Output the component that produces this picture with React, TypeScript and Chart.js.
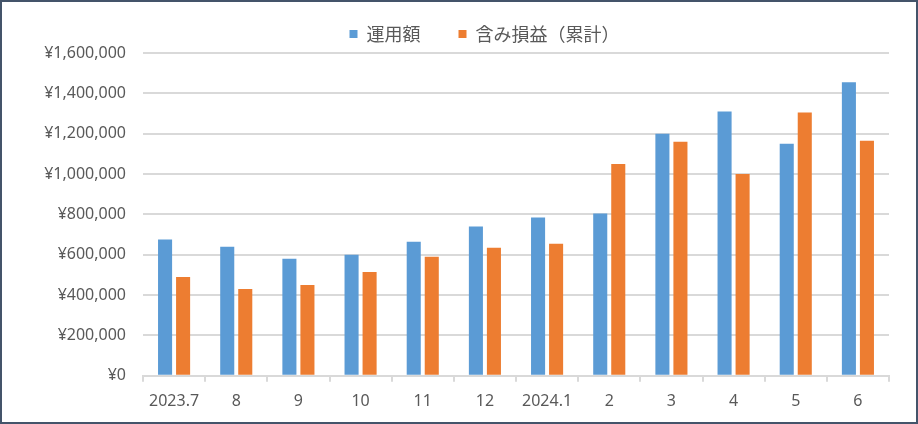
import React, { useEffect, useRef } from 'react';
import { Chart, registerables } from 'chart.js';

Chart.register(...registerables);

const categories = ['2023.7', '8', '9', '10', '11', '12', '2024.1', '2', '3', '4', '5', '6'];
const seriesNames = ['運用額', '含み損益（累計）'];
const investedValues = [675000, 640000, 580000, 600000, 665000, 740000, 785000, 805000, 1200000, 1310000, 1150000, 1455000];
const gainValues = [490000, 430000, 450000, 515000, 590000, 635000, 655000, 1050000, 1160000, 1000000, 1305000, 1165000];
const yMin = 0;
const yMax = 1600000;
const yStep = 200000;

const TEXT = '#595959';
const GRID = '#d9d9d9';
const tickFont = { family: '"Noto Sans", sans-serif', size: 16 };

const legendShift = {
  id: 'legendShift',
  afterLayout(chart: any) {
    const l = chart.legend;
    if (l) {
      l.left += 39;
      l.right += 39;
    }
  },
};

export default function App() {
  const ref = useRef<HTMLCanvasElement>(null);

  useEffect(() => {
    const chart = new Chart(ref.current!, {
      type: 'bar',
      data: {
        labels: categories,
        datasets: [
          {
            label: seriesNames[0],
            data: investedValues,
            backgroundColor: '#5B9BD5',
            categoryPercentage: 0.58,
            barPercentage: 0.78,
          },
          {
            label: seriesNames[1],
            data: gainValues,
            backgroundColor: '#ED7D31',
            categoryPercentage: 0.58,
            barPercentage: 0.78,
          },
        ],
      },
      options: {
        responsive: false,
        animation: false,
        layout: { padding: { left: 0, right: 27, top: -15, bottom: 1 } },
        plugins: {
          legend: {
            display: true,
            position: 'top',
            labels: {
              boxWidth: 8,
              boxHeight: 8,
              padding: 38,
              color: TEXT,
              font: { family: '"Noto Sans CJK JP", sans-serif', size: 18 },
            },
          },
          tooltip: { enabled: false },
        },
        scales: {
          x: {
            grid: {
              offset: true,
              drawOnChartArea: false,
              drawTicks: true,
              tickLength: 6,
              color: GRID,
              lineWidth: 2,
            },
            border: { color: GRID, width: 2 },
            ticks: {
              color: TEXT,
              font: tickFont,
              padding: 10,
              autoSkip: false,
              maxRotation: 0,
            },
          },
          y: {
            min: yMin,
            max: yMax,
            ticks: {
              stepSize: yStep,
              color: TEXT,
              font: tickFont,
              padding: 17,
              callback: (v: any) => '¥' + Number(v).toLocaleString('en-US'),
            },
            grid: { color: GRID, lineWidth: 2, drawTicks: false },
            border: { display: false },
            afterFit: (s: any) => {
              s.width = 141;
            },
          },
        },
      },
      plugins: [legendShift],
    } as any);
    return () => chart.destroy();
  }, []);

  return (
    <div
      style={{
        position: 'fixed',
        left: 0,
        top: 0,
        width: 918,
        height: 424,
        boxSizing: 'border-box',
        border: '2px solid #44546A',
        background: '#fff',
      }}
    >
      <canvas ref={ref} width={914} height={420} style={{ display: 'block' }} />
    </div>
  );
}
